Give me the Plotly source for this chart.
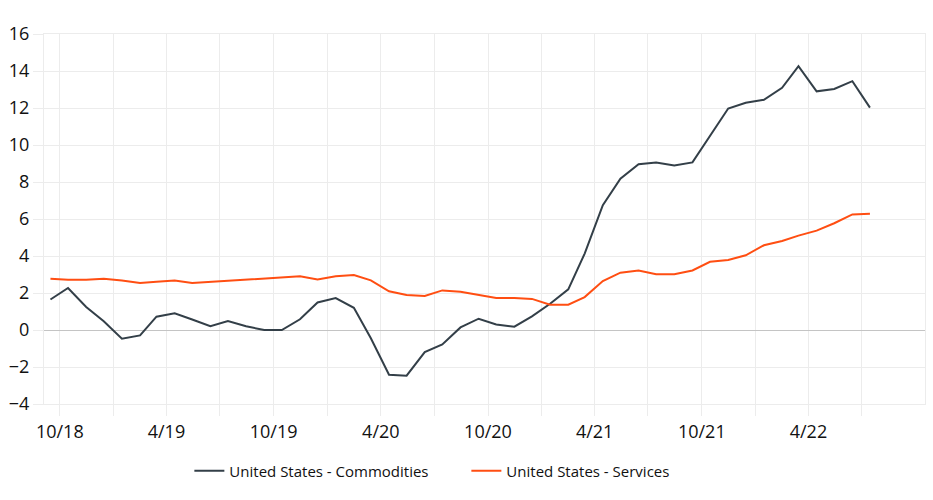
import plotly.graph_objects as go
import pandas as pd

months = pd.date_range("2018-09-01", periods=47, freq="MS") + pd.Timedelta(days=14)

commodities = [1.65, 2.27, 1.24, 0.47, -0.47, -0.29, 0.72, 0.9, 0.57, 0.2, 0.49, 0.2,
               0.0, 0.0, 0.58, 1.49, 1.73, 1.2, -0.45, -2.42, -2.47, -1.19, -0.78, 0.14,
               0.61, 0.3, 0.18, 0.74, 1.42, 2.2, 4.13, 6.75, 8.18, 8.96, 9.06, 8.89,
               9.06, 10.52, 11.97, 12.28, 12.44, 13.09, 14.26, 12.9, 13.03, 13.45, 12.02]
services = [2.77, 2.72, 2.72, 2.77, 2.67, 2.54, 2.61, 2.67, 2.54, 2.6, 2.65, 2.7,
            2.76, 2.81, 2.9, 2.73, 2.9, 2.97, 2.68, 2.09, 1.89, 1.84, 2.14, 2.07,
            1.89, 1.73, 1.73, 1.68, 1.37, 1.37, 1.78, 2.65, 3.1, 3.21, 3.01, 3.01,
            3.22, 3.69, 3.79, 4.04, 4.58, 4.81, 5.1, 5.37, 5.77, 6.25, 6.29]

tick_dates = pd.date_range("2018-10-01", "2022-07-01", freq="3MS")
tick_text = [f"{d.month}/{d.year % 100}" if i % 2 == 0 else "" for i, d in enumerate(tick_dates)]
y_ticks = [-4, -2, 0, 2, 4, 6, 8, 10, 12, 14, 16]

FONT = "Open Sans"
fig = go.Figure()
fig.add_trace(go.Scatter(x=months, y=commodities, mode="lines", name="United States - Commodities",
                         line=dict(color="#333f48", width=2)))
fig.add_trace(go.Scatter(x=months, y=services, mode="lines", name="United States - Services",
                         line=dict(color="#ff4e12", width=2)))

fig.update_layout(
    width=933, height=500,
    margin=dict(l=44, r=8, t=34, b=96),
    plot_bgcolor="white", paper_bgcolor="white",
    font=dict(family=FONT, size=17, color="#111111"),
    showlegend=True,
    legend=dict(orientation="h", x=0.165, xanchor="left", y=-0.181, yanchor="middle",
                font=dict(size=15, color="#111111"), itemwidth=30, traceorder="normal",
                entrywidth=232),
    xaxis=dict(type="date", range=["2018-09-04", "2022-10-17"],
               tickmode="array", tickvals=tick_dates, ticktext=tick_text,
               showgrid=True, gridcolor="#ececec", gridwidth=1,
               ticks="outside", ticklen=11, tickcolor="#ececec",
               showline=True, linecolor="#ececec", mirror=True,
               tickfont=dict(size=18), zeroline=False),
    yaxis=dict(range=[-4, 16], tickmode="array", tickvals=y_ticks,
               showgrid=True, gridcolor="#ececec", gridwidth=1,
               ticks="outside", ticklen=10, tickcolor="#ececec",
               showline=True, linecolor="#ececec", mirror=True,
               zeroline=True, zerolinecolor="#c4c4c4", zerolinewidth=1,
               tickfont=dict(size=18)),
)

fig.write_html("out.html", config={"displayModeBar": False},
               post_script="document.body.style.margin='0';document.body.style.overflow='hidden';")
